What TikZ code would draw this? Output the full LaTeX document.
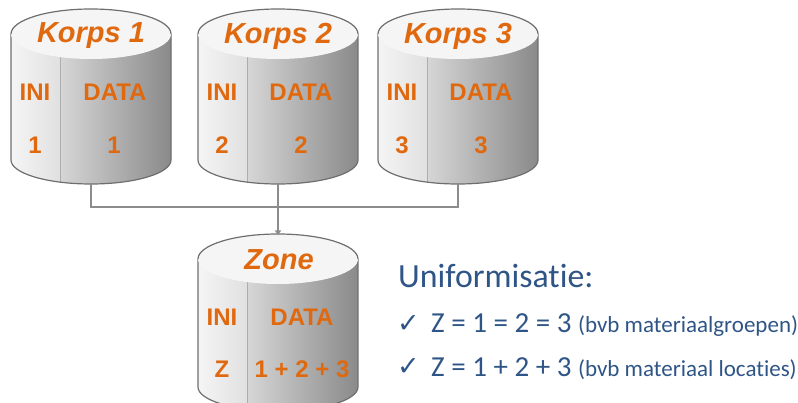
\documentclass[tikz,border=0pt]{standalone}
\usepackage{fontspec}
\setmainfont{Liberation Sans}
\newfontfamily\bodyfont[Ligatures=NoCommon]{Carlito}
\newfontfamily\checkfont{DejaVu Sans}
\usetikzlibrary{arrows.meta}
\definecolor{orangetxt}{HTML}{E0690F}
\definecolor{bluetxt}{HTML}{2F5587}
\definecolor{edgegray}{HTML}{6E6E6E}
\definecolor{linkgray}{HTML}{8C8C8C}
\tikzset{
  x=1pt,y=-1pt,
  titletxt/.style={font=\fontsize{29}{29}\selectfont\bfseries\itshape,text=orangetxt,inner sep=0},
  celltxt/.style={font=\fontsize{24}{24}\selectfont\bfseries,text=orangetxt,inner sep=0},
  anchorbox/.style={minimum width=160pt,minimum height=174pt,inner sep=0,outer sep=0},
  link/.style={draw=linkgray,line width=1.6pt},
  headtxt/.style={font=\bodyfont\fontsize{33.8}{34}\selectfont,text=bluetxt,inner sep=0,anchor=base west},
  itemtxt/.style={font=\bodyfont\fontsize{29}{29}\selectfont,text=bluetxt,inner sep=0,anchor=base west},
  checktxt/.style={font=\checkfont\fontsize{27}{27}\selectfont,text=bluetxt,inner sep=0,anchor=base west},
}
\newcommand{\smalltxt}[1]{{\fontsize{23}{22}\selectfont #1}}
% name, centre x, top ellipse centre y, bottom-of-side y
\newcommand{\cylbody}[4]{%
  \begin{scope}
    \clip (#2-80,#3) -- (#2-80,#4) arc[start angle=180,end angle=0,x radius=80,y radius=24] -- (#2+80,#3) -- cycle;
    \shade[left color=white!96!black,right color=white!88!black,shading angle=90] (#2-80,#3) rectangle (#2-31,#4+30);
    \shade[left color=white!84!black,right color=white!54!black,shading angle=90] (#2-31,#3) rectangle (#2+80,#4+30);
    \draw[white!68!black,line width=1pt] (#2-31,#3) -- (#2-31,#4+30);
  \end{scope}
  \draw[edgegray,line width=1.2pt] (#2-80,#3) -- (#2-80,#4) arc[start angle=180,end angle=0,x radius=80,y radius=24] -- (#2+80,#3);
  \fill[white!96!black] (#2,#3) ellipse[x radius=80,y radius=25];
  \draw[edgegray,line width=1.2pt] (#2-80,#3) arc[start angle=180,end angle=360,x radius=80,y radius=25];
  \node[anchorbox] (#1) at (#2,{(#3-25+#4+24)/2}) {};
}
\begin{document}
\begin{tikzpicture}
\useasboundingbox (0,0) rectangle (798,403);
\begin{scope}
\clip (0,0) rectangle (798,403);
\cylbody{k1}{91}{34}{160}
\cylbody{k2}{278}{34}{160}
\cylbody{k3}{458}{34}{160}
\cylbody{zone}{278}{259}{387}
\end{scope}
\node[titletxt] (k1t) at (91,36) {Korps 1};
\node[titletxt] (k2t) at (278,36) {Korps 2};
\node[titletxt] (k3t) at (458,36) {Korps 3};
\node[titletxt] (zt) at (279,260) {Zone};
\node[celltxt] (k1i) at (35,92) {INI};
\node[celltxt] (k1d) at (115,92) {DATA};
\node[celltxt] (k1a) at (35,145) {1};
\node[celltxt] (k1b) at (114,145) {1};
\node[celltxt] (k2i) at (222,92) {INI};
\node[celltxt] (k2d) at (301,92) {DATA};
\node[celltxt] (k2a) at (222,145) {2};
\node[celltxt] (k2b) at (301,145) {2};
\node[celltxt] (k3i) at (402,92) {INI};
\node[celltxt] (k3d) at (481,92) {DATA};
\node[celltxt] (k3a) at (402,145) {3};
\node[celltxt] (k3b) at (481,145) {3};
\node[celltxt] (zi) at (222,317) {INI};
\node[celltxt] (zd) at (302,317) {DATA};
\node[celltxt] (za) at (222,369) {Z};
\node[celltxt] (zb) at (302,369) {1 + 2 + 3};
\coordinate (mid) at (278,207);
\draw[link] (k1.south) |- (mid);
\draw[link] (k3.south) |- (mid);
\draw[link,-{Latex[length=5pt,width=7pt]}] (k2.south) -- (zone.north);
\node[headtxt] (h) at (398,288) {Uniformisatie:};
\node[checktxt] (c1) at (397,333) {✓};
\node[itemtxt] (l1) at (431,333) {Z = 1 = 2 = 3 \smalltxt{(bvb materiaalgroepen)}};
\node[checktxt] (c2) at (397,375) {✓};
\node[itemtxt] (l2) at (431,376) {Z = 1 + 2 + 3 \smalltxt{(bvb materiaal locaties)}};
\end{tikzpicture}
\end{document}
